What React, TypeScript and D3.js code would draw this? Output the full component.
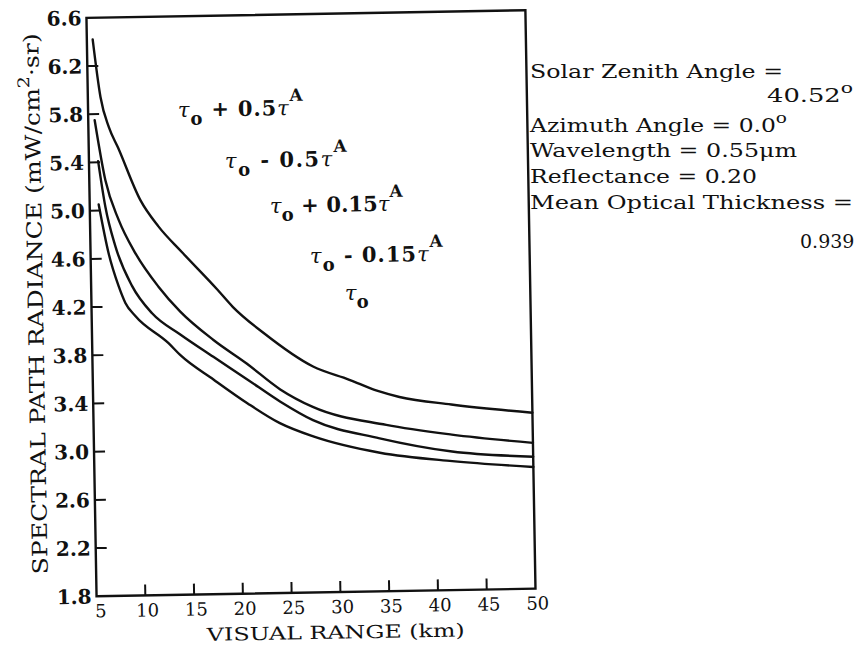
import React from "react";
import * as d3 from "d3";

// ---- data (visual range km, spectral path radiance mW/cm^2·sr) ----
const curvePlus05: [number, number][] = [
  [5.6, 6.42], [6.3, 5.94], [7.1, 5.69], [8, 5.52], [10.2, 5.08], [12, 4.86],
  [14.4, 4.64], [17.9, 4.33], [19.5, 4.18], [22.6, 3.96], [27.6, 3.675],
  [31.3, 3.56], [34.1, 3.465], [36.4, 3.41], [41.7, 3.34], [50, 3.26],
];
const curveMinus05: [number, number][] = [
  [5.66, 5.75], [6.65, 5.25], [7.94, 4.92], [9.6, 4.64], [11.9, 4.36],
  [14.09, 4.15], [17.44, 3.91], [20.8, 3.71], [24.2, 3.49], [27.5, 3.34],
  [35, 3.18], [41.7, 3.09], [50, 3.01],
];
const curvePlus015: [number, number][] = [
  [5.94, 5.41], [6.6, 5.03], [7.56, 4.7], [9.19, 4.37], [11.2, 4.14],
  [14.05, 3.96], [17.4, 3.77], [20.8, 3.58], [24.15, 3.39], [27.5, 3.23],
  [34.3, 3.07], [41.7, 2.95], [50, 2.895],
];
const curveMinus015: [number, number][] = [
  [5.92, 5.05], [6.86, 4.64], [7.82, 4.37], [8.48, 4.23], [9.48, 4.12],
  [12.83, 3.89], [14.0, 3.79], [17.4, 3.58], [20.8, 3.38], [24.1, 3.21],
  [27.5, 3.095], [34.3, 2.95], [41.7, 2.87], [50, 2.81],
];
const curves = [curvePlus05, curveMinus05, curvePlus015, curveMinus015];

const xTicks = [5, 10, 15, 20, 25, 30, 35, 40, 45, 50];
const yTicks = [1.8, 2.2, 2.6, 3.0, 3.4, 3.8, 4.2, 4.6, 5.0, 5.4, 5.8, 6.2, 6.6];

// curve annotations: sign/coefficient text and anchor in data units
const annCoef = ["+ 0.5", "- 0.5", "+ 0.15", "- 0.15", ""];
const annX = [14.2, 18.93, 23.46, 27.47, 31.0];
const annY = [5.765, 5.335, 4.955, 4.534, 4.222];
const annWidth = [125, 122, 133, 133, 0];

const infoLines = [
  { main: "Solar Zenith Angle =", sup: "" },
  { main: "40.52", sup: "o" },
  { main: "Azimuth Angle = 0.0", sup: "o" },
  { main: "Wavelength = 0.55\u03bcm", sup: "" },
  { main: "Reflectance = 0.20", sup: "" },
  { main: "Mean Optical Thickness =", sup: "" },
  { main: "0.939", sup: "" },
];
const infoStartX = [530, 767, 530, 530, 530, 530, 800];
const infoBaselines = [78, 102, 132, 157, 183, 209, 248];
const infoWidths = [253, 86, 257, 267, 227, 323, 0];

const W = 859;
const H = 647;
const FONT = "'DejaVu Serif', 'Liberation Serif', serif";
const INK = "#111";

export default function App() {
  const x = d3.scaleLinear().domain([5, 50]).range([91.5, 530.5]);
  const y = d3.scaleLinear().domain([1.8, 6.6]).range([592.5, 14]);
  const line = d3
    .line<[number, number]>()
    .x((d) => x(d[0]))
    .y((d) => y(d[1]))
    .curve(d3.curveMonotoneX);

  const [x0, x1] = x.range();
  const [yb, yt] = y.range();

  return (
    <svg
      width={W}
      height={H}
      viewBox={`0 0 ${W} ${H}`}
      style={{ position: "absolute", left: 0, top: 0, background: "#fff" }}
      fontFamily={FONT}
      fill={INK}
    >
      <rect x={0} y={0} width={W} height={H} fill="#fff" />
      <g transform="rotate(-1 313 305)">
        {/* frame */}
        <rect
          x={x0}
          y={yt}
          width={x1 - x0}
          height={yb - yt}
          fill="none"
          stroke={INK}
          strokeWidth={2.4}
        />
        {/* y ticks */}
        {yTicks
          .filter((t) => t > 1.8 && t < 6.6)
          .map((t) => (
            <line
              key={"yt" + t}
              x1={x0}
              x2={x0 + 11}
              y1={y(t)}
              y2={y(t)}
              stroke={INK}
              strokeWidth={2}
            />
          ))}
        {yTicks.map((t) => (
          <text
            key={"yl" + t}
            x={x0 - 5}
            y={y(t)}
            dy="0.36em"
            textAnchor="end"
            fontSize={20}
            fontWeight="bold"
          >
            {t.toFixed(1)}
          </text>
        ))}
        {/* x ticks */}
        {xTicks
          .filter((t) => t > 5 && t < 50)
          .map((t) => (
            <line
              key={"xt" + t}
              x1={x(t)}
              x2={x(t)}
              y1={yb}
              y2={yb - 11}
              stroke={INK}
              strokeWidth={2}
            />
          ))}
        {xTicks.map((t) => (
          <text
            key={"xl" + t}
            x={x(t) + (t === 5 ? 4 : 2)}
            y={yb + 21}
            textAnchor="middle"
            fontSize={18}
          >
            {t}
          </text>
        ))}
        {/* axis titles */}
        <text
          x={330}
          y={639}
          textAnchor="middle"
          fontSize={18}
          textLength={258}
          lengthAdjust="spacingAndGlyphs"
        >
          VISUAL RANGE (km)
        </text>
        <text
          transform={`translate(43,${299}) rotate(-90)`}
          textAnchor="middle"
          fontSize={21}
          textLength={541}
          lengthAdjust="spacingAndGlyphs"
        >
          SPECTRAL PATH RADIANCE (mW/cm
          <tspan dy={-10} fontSize={16}>
            2
          </tspan>
          <tspan dy={10}>{"\u00b7sr)"}</tspan>
        </text>
        {/* curves */}
        {curves.map((c, i) => (
          <path
            key={"c" + i}
            d={line(c) || ""}
            fill="none"
            stroke={INK}
            strokeWidth={2.4}
            strokeLinejoin="round"
            strokeLinecap="round"
          />
        ))}
        {/* annotations */}
        {annCoef.map((coef, i) => (
          <text
            key={"a" + i}
            x={x(annX[i])}
            y={y(annY[i])}
            fontSize={21}
            {...(annWidth[i]
              ? { textLength: annWidth[i], lengthAdjust: "spacing" }
              : {})}
          >
            <tspan fontStyle="italic">{"\u03c4"}</tspan>
            <tspan dy={8} fontSize={18} fontWeight="bold">
              o
            </tspan>
            {coef && (
              <>
                <tspan dy={-8} fontWeight="bold">
                  {" " + coef}
                </tspan>
                <tspan fontStyle="italic">{"\u03c4"}</tspan>
                <tspan dy={-14} fontSize={17} fontWeight="bold">
                  A
                </tspan>
              </>
            )}
          </text>
        ))}
      </g>
      {/* info block */}
      {infoLines.map((l, i) => (
        <text
          key={"i" + i}
          x={infoStartX[i]}
          y={infoBaselines[i]}
          fontSize={19}
          {...(infoWidths[i]
            ? { textLength: infoWidths[i], lengthAdjust: "spacingAndGlyphs" }
            : {})}
        >
          {l.main}
          {l.sup && (
            <tspan dy={-9} fontSize={15}>
              {l.sup}
            </tspan>
          )}
        </text>
      ))}
    </svg>
  );
}
